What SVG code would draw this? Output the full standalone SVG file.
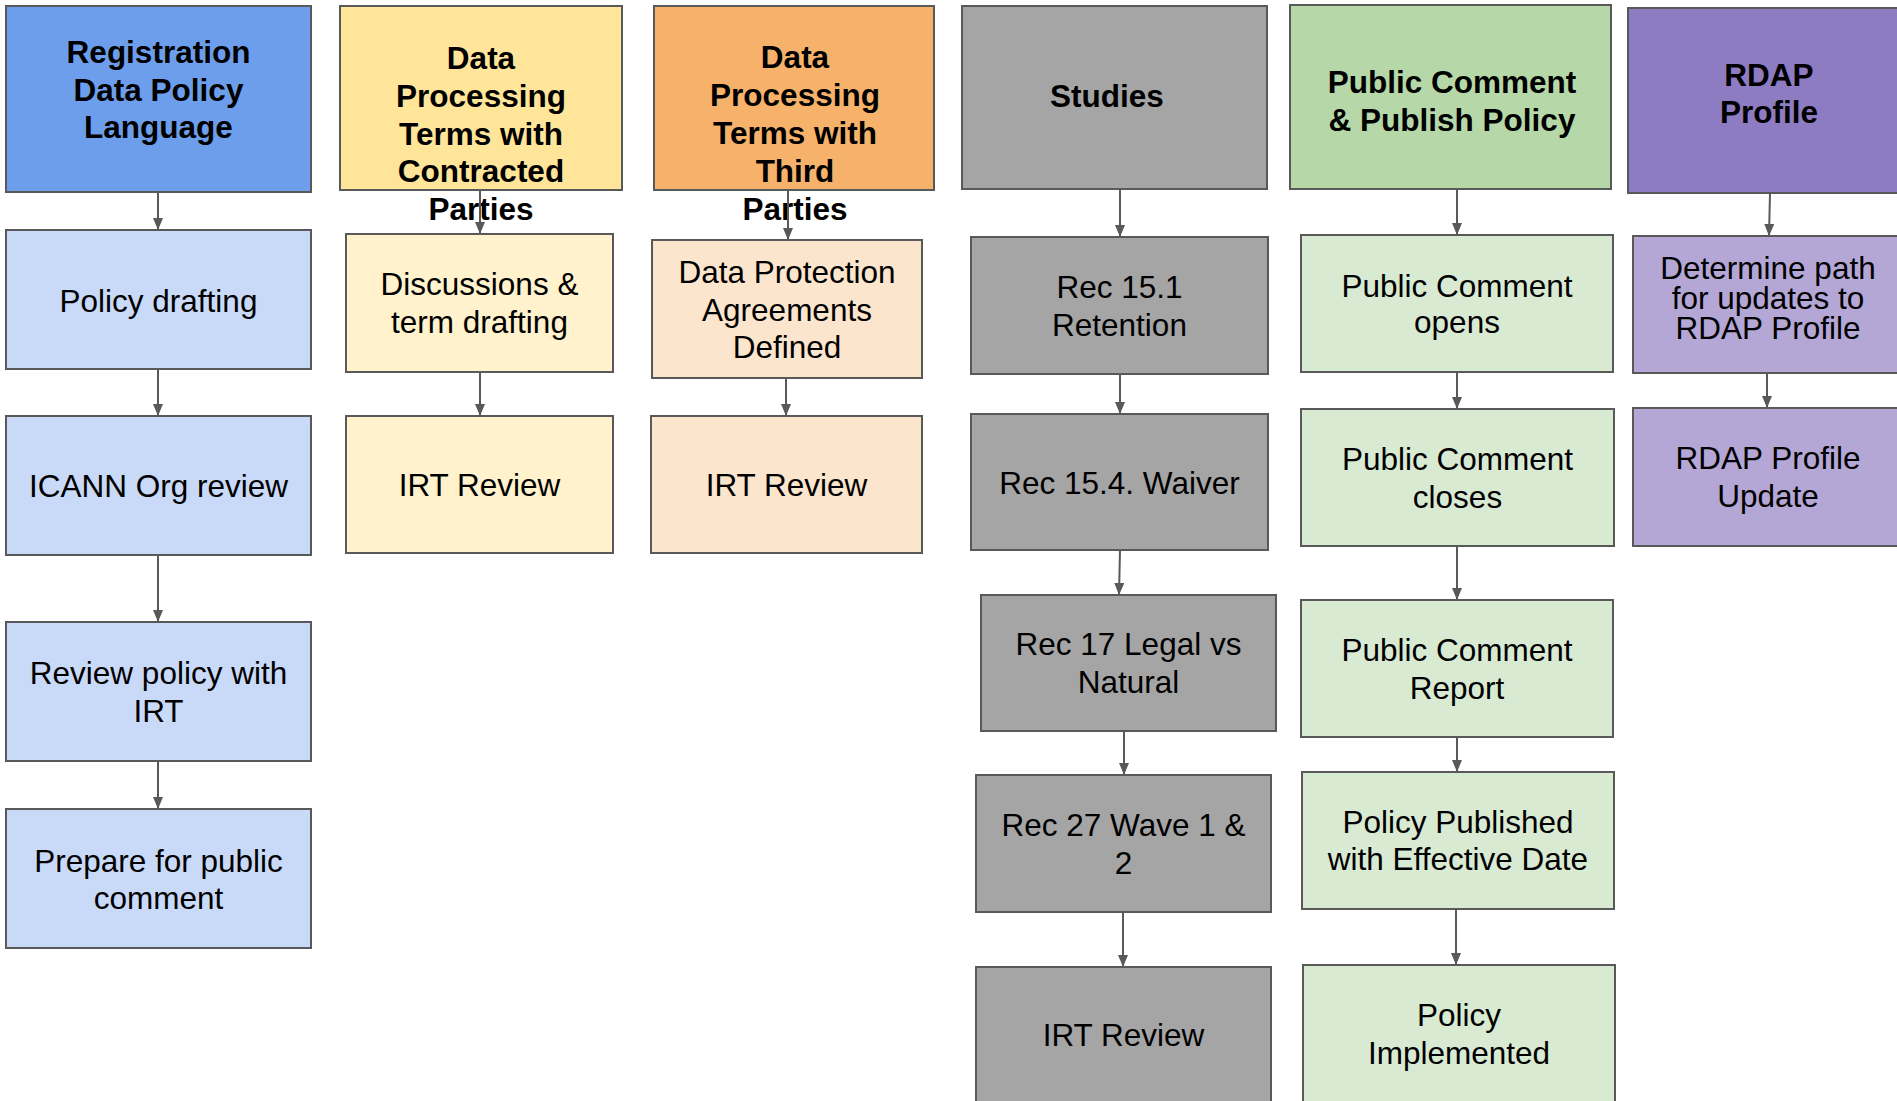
<svg xmlns="http://www.w3.org/2000/svg" width="1897" height="1101" viewBox="0 0 1897 1101">
<style>
rect{stroke:#595959;stroke-width:2}
text{font-family:"Liberation Sans",Arial,sans-serif;font-size:31.5px;fill:#000;text-anchor:middle}
.h{font-weight:bold}
.c1h{fill:#6d9eeb}.c1{fill:#c9daf8}
.c2h{fill:#ffe599}.c2{fill:#fff2cc}
.c3h{fill:#f6b26b}.c3{fill:#fce5cd}
.c4{fill:#a5a5a5}
.c5h{fill:#b6d7a8}.c5{fill:#d9ead3}
.c6h{fill:#8e7cc3}.c6{fill:#b4a7d6}
.conn line{stroke:#595959;stroke-width:2;fill:none;marker-end:url(#arr)}
</style>
<defs>
<marker id="arr" viewBox="0 0 12 10" refX="12" refY="5" markerWidth="12" markerHeight="10" markerUnits="userSpaceOnUse" orient="auto">
<path d="M0,0 L12,5 L0,10 z" fill="#595959"/>
</marker>
</defs>
<rect width="1897" height="1101" fill="#fff" style="stroke:none"/>

<g id="rdpl">
<rect class="c1h" x="6" y="6" width="305" height="186"/>
<text class="h" x="158.5" y="63">Registration</text>
<text class="h" x="158.5" y="100.5">Data Policy</text>
<text class="h" x="158.5" y="138">Language</text>
</g>
<g id="policy-drafting">
<rect class="c1" x="6" y="230" width="305" height="139"/>
<text x="158.5" y="311.5">Policy drafting</text>
</g>
<g id="icann-review">
<rect class="c1" x="6" y="416" width="305" height="139"/>
<text x="158.5" y="497">ICANN Org review</text>
</g>
<g id="review-irt">
<rect class="c1" x="6" y="622" width="305" height="139"/>
<text x="158.5" y="684">Review policy with</text>
<text x="158.5" y="722">IRT</text>
</g>
<g id="prepare-pc">
<rect class="c1" x="6" y="809" width="305" height="139"/>
<text x="158.5" y="872">Prepare for public</text>
<text x="158.5" y="909">comment</text>
</g>

<g id="dpt-contracted">
<rect class="c2h" x="340" y="6" width="282" height="184"/>
<text class="h" x="481" y="69">Data</text>
<text class="h" x="481" y="107">Processing</text>
<text class="h" x="481" y="144.5">Terms with</text>
<text class="h" x="481" y="182">Contracted</text>
<text class="h" x="481" y="220">Parties</text>
</g>
<g id="discussions">
<rect class="c2" x="346" y="234" width="267" height="138"/>
<text x="479.5" y="295">Discussions &amp;</text>
<text x="479.5" y="333">term drafting</text>
</g>
<g id="irt-review-2">
<rect class="c2" x="346" y="416" width="267" height="137"/>
<text x="479.5" y="496">IRT Review</text>
</g>

<g id="dpt-third">
<rect class="c3h" x="654" y="6" width="280" height="184"/>
<text class="h" x="795" y="68">Data</text>
<text class="h" x="795" y="106">Processing</text>
<text class="h" x="795" y="144">Terms with</text>
<text class="h" x="795" y="182">Third</text>
<text class="h" x="795" y="220">Parties</text>
</g>
<g id="dpa">
<rect class="c3" x="652" y="240" width="270" height="138"/>
<text x="787" y="283">Data Protection</text>
<text x="787" y="321">Agreements</text>
<text x="787" y="358">Defined</text>
</g>
<g id="irt-review-3">
<rect class="c3" x="651" y="416" width="271" height="137"/>
<text x="786.5" y="496">IRT Review</text>
</g>

<g id="studies">
<rect class="c4" x="962" y="6" width="305" height="183"/>
<text class="h" x="1107" y="107">Studies</text>
</g>
<g id="rec151">
<rect class="c4" x="971" y="237" width="297" height="137"/>
<text x="1119.5" y="298">Rec 15.1</text>
<text x="1119.5" y="336">Retention</text>
</g>
<g id="rec154">
<rect class="c4" x="971" y="414" width="297" height="136"/>
<text x="1119.5" y="494">Rec 15.4. Waiver</text>
</g>
<g id="rec17">
<rect class="c4" x="981" y="595" width="295" height="136"/>
<text x="1128.5" y="655">Rec 17 Legal vs</text>
<text x="1128.5" y="693">Natural</text>
</g>
<g id="rec27">
<rect class="c4" x="976" y="775" width="295" height="137"/>
<text x="1123.5" y="836">Rec 27 Wave 1 &amp;</text>
<text x="1123.5" y="874">2</text>
</g>
<g id="irt-review-4">
<rect class="c4" x="976" y="967" width="295" height="137"/>
<text x="1123.5" y="1046">IRT Review</text>
</g>

<g id="pc-publish">
<rect class="c5h" x="1290" y="5" width="321" height="184"/>
<text class="h" x="1452" y="93">Public Comment</text>
<text class="h" x="1452" y="131">&amp; Publish Policy</text>
</g>
<g id="pc-opens">
<rect class="c5" x="1301" y="235" width="312" height="137"/>
<text x="1457" y="297">Public Comment</text>
<text x="1457" y="333">opens</text>
</g>
<g id="pc-closes">
<rect class="c5" x="1301" y="409" width="313" height="137"/>
<text x="1457.5" y="470">Public Comment</text>
<text x="1457.5" y="508">closes</text>
</g>
<g id="pc-report">
<rect class="c5" x="1301" y="600" width="312" height="137"/>
<text x="1457" y="661">Public Comment</text>
<text x="1457" y="699">Report</text>
</g>
<g id="policy-published">
<rect class="c5" x="1302" y="772" width="312" height="137"/>
<text x="1458" y="833">Policy Published</text>
<text x="1458" y="870">with Effective Date</text>
</g>
<g id="policy-implemented">
<rect class="c5" x="1303" y="965" width="312" height="138"/>
<text x="1459" y="1026">Policy</text>
<text x="1459" y="1064">Implemented</text>
</g>

<g id="rdap">
<rect class="c6h" x="1628" y="8" width="282" height="185"/>
<text class="h" x="1769" y="86">RDAP</text>
<text class="h" x="1769" y="123">Profile</text>
</g>
<g id="rdap-path">
<rect class="c6" x="1633" y="236" width="277" height="137"/>
<text x="1768" y="279">Determine path</text>
<text x="1768" y="308.5">for updates to</text>
<text x="1768" y="339">RDAP Profile</text>
</g>
<g id="rdap-update">
<rect class="c6" x="1633" y="408" width="277" height="138"/>
<text x="1768" y="469">RDAP Profile</text>
<text x="1768" y="507">Update</text>
</g>

<g id="connectors" class="conn">
<line x1="158" y1="192" x2="158" y2="230"/>
<line x1="158" y1="369" x2="158" y2="416"/>
<line x1="158" y1="555" x2="158" y2="622"/>
<line x1="158" y1="761" x2="158" y2="809"/>
<line x1="480" y1="190" x2="480" y2="234"/>
<line x1="480" y1="372" x2="480" y2="416"/>
<line x1="788" y1="190" x2="788" y2="240"/>
<line x1="786" y1="378" x2="786" y2="416"/>
<line x1="1120" y1="189" x2="1120" y2="237"/>
<line x1="1120" y1="374" x2="1120" y2="414"/>
<line x1="1120" y1="550" x2="1119" y2="595"/>
<line x1="1124" y1="731" x2="1124" y2="775"/>
<line x1="1123" y1="912" x2="1123" y2="967"/>
<line x1="1457" y1="189" x2="1457" y2="235"/>
<line x1="1457" y1="372" x2="1457" y2="409"/>
<line x1="1457" y1="546" x2="1457" y2="600"/>
<line x1="1457" y1="737" x2="1457" y2="772"/>
<line x1="1456" y1="909" x2="1456" y2="965"/>
<line x1="1770" y1="193" x2="1769" y2="236"/>
<line x1="1767" y1="373" x2="1767" y2="408"/>
</g>
</svg>
